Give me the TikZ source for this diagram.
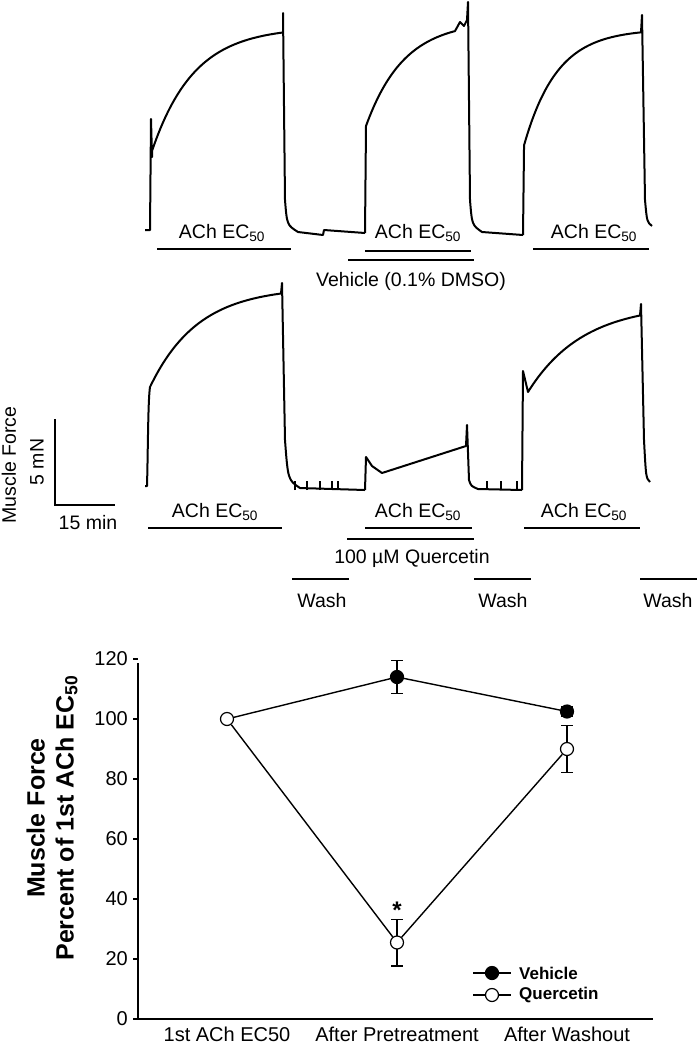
\documentclass[tikz,border=0pt]{standalone}
\usepackage{fontspec}
\setmainfont{Liberation Sans}
\begin{document}
\begin{tikzpicture}[x=1pt,y=-1pt,
    trace/.style={line width=2pt, line join=round},
    bar/.style={line width=1.2pt},
    lbl/.style={font=\fontsize{19.5}{22}\selectfont, inner sep=0pt},
    ticklbl/.style={font=\fontsize{20}{22}\selectfont, inner sep=0pt, anchor=east},
    vdot/.style={circle, draw, fill=black, line width=1.2pt, minimum size=13pt, inner sep=0pt},
    qdot/.style={circle, draw, fill=white, line width=1.2pt, minimum size=13pt, inner sep=0pt}]
    \useasboundingbox (0,0) rectangle (698,1047);

    % vehicle traces
    \draw[trace] (145,230) -- (150,230) -- (151,119) -- (152,157)
        -- plot[domain=152:283,samples=60,variable=\x] ({\x},{157-130*(1-exp(-(\x-150)/42))})
        -- (283,13) -- (285,200) .. controls (287,225) .. (298,232) -- (323,235) -- (324,230) -- (365,233);
    \draw[trace] (365,233) -- (366,126)
        -- plot[domain=366:455,samples=50,variable=\x] ({\x},{126-105*(1-exp(-(\x-366)/38))})
        -- (460,22) -- (464,26) -- (467,20) -- (468,2) -- (470,200) .. controls (472,225) .. (482,232) -- (523,235);
    \draw[trace] (523,235) -- (524,149)
        -- plot[domain=524:641,samples=60,variable=\x] ({\x},{149-120*(1-exp(-(\x-523)/33))})
        -- (642,15) -- (645,200) .. controls (647,222) .. (652,226);

    \foreach \cx/\xa/\xb/\ly in {222/157/291/249, 418/365/471/251, 594/533/649/249}
        {\node[lbl] (veh\cx) at (\cx,233) {ACh EC\textsubscript{50}};
         \draw[bar] (\xa,\ly) -- (\xb,\ly);}
    \draw[bar] (348,260) -- (474,260);
    \node[lbl] (vehlabel) at (411,281) {Vehicle (0.1\% DMSO)};

    % quercetin traces
    \draw[trace] (145,486) -- (147,486) .. controls (148,450) and (148,400) .. (150,387)
        -- plot[domain=150:281,samples=60,variable=\x] ({\x},{387-100*(1-exp(-(\x-150)/48))})
        -- (282,283) -- (285,440) .. controls (288,480) .. (300,488) -- (365,490);
    \draw[trace] (365,490) -- (366,457) -- (372,466) -- (382,473) -- (466,446) -- (467,425) -- (469,480) .. controls (471,486) .. (478,489) -- (522,490);
    \draw[trace] (522,490) -- (523,371) -- (528,392)
        -- plot[domain=528:640,samples=60,variable=\x] ({\x},{392-88*(1-exp(-(\x-528)/55))})
        -- (641,304) -- (644,440) .. controls (646,478) .. (650,482);
    \foreach \sx in {295,307,320,332,338}
        \draw[line width=1.2pt] (\sx,490) -- (\sx,481);
    \foreach \sx in {487,501,517}
        \draw[line width=1.2pt] (\sx,490) -- (\sx,481);

    \foreach \cx/\xa/\xb in {215/148/282, 418/365/472, 584/524/640}
        {\node[lbl] (que\cx) at (\cx,512) {ACh EC\textsubscript{50}};
         \draw[bar] (\xa,528) -- (\xb,528);}
    \draw[bar] (347,539) -- (474,539);
    \node[lbl] (quelabel) at (412,558) {100 µM Quercetin};
    \foreach \cx/\xa/\xb in {322/292/349, 503/474/531, 668/640/697}
        {\draw[bar] (\xa,579) -- (\xb,579);
         \node[lbl] (wash\cx) at (\cx,601) {Wash};}

    % scale bar
    \draw[bar] (55,419) -- (55,505) -- (115,505);
    \node[lbl] (minlabel) at (88,523) {15 min};
    \node[lbl, rotate=90] (mnlabel) at (37,462) {5 mN};
    \node[lbl, rotate=90] (forcelabel) at (9,465) {Muscle Force};

    % summary plot
    \draw[line width=1.4pt] (138,663) -- (138,1019) -- (653,1019);
    \foreach \v in {0,20,...,120}
        {\draw[line width=1.2pt] (133,{1019-3*\v}) -- (138,{1019-3*\v});
         \node[ticklbl] (tick\v) at (128,{1019-3*\v}) {\v};}
    \node[font=\fontsize{25}{29}\selectfont\bfseries, rotate=90, align=center] (ytitle) at (52,818)
        {Muscle Force\\Percent of 1st ACh EC\textsubscript{50}};
    \foreach \cx/\txt in {227/1st ACh EC50, 397/After Pretreatment, 567/After Washout}
        \node[ticklbl, anchor=base] (cat\cx) at (\cx,1041) {\txt};

    \draw[line width=1.2pt] (397,{1019-3*108.5}) -- (397,{1019-3*119.5})
        (391,{1019-3*108.5}) -- (403,{1019-3*108.5}) (391,{1019-3*119.5}) -- (403,{1019-3*119.5});
    \draw[line width=1.2pt] (567,{1019-3*101}) -- (567,{1019-3*104})
        (561,{1019-3*101}) -- (573,{1019-3*101}) (561,{1019-3*104}) -- (573,{1019-3*104});
    \draw[line width=1.2pt] (397,{1019-3*17.7}) -- (397,{1019-3*33.3})
        (391,{1019-3*17.7}) -- (403,{1019-3*17.7}) (391,{1019-3*33.3}) -- (403,{1019-3*33.3});
    \draw[line width=1.2pt] (567,{1019-3*82.2}) -- (567,{1019-3*97.8})
        (561,{1019-3*82.2}) -- (573,{1019-3*82.2}) (561,{1019-3*97.8}) -- (573,{1019-3*97.8});

    \node[vdot] (v2) at (397,{1019-3*114}) {};
    \node[vdot] (v3) at (567,{1019-3*102.5}) {};
    \node[qdot] (q1) at (227,719) {};
    \node[qdot] (q2) at (397,{1019-3*25.5}) {};
    \node[qdot] (q3) at (567,{1019-3*90}) {};
    \draw[line width=1.4pt] (q1) -- (v2) -- (v3);
    \draw[line width=1.4pt] (q1) -- (q2) -- (q3);
    \node[font=\fontsize{24}{26}\selectfont\bfseries] (star) at (397,910) {*};

    % legend
    \node[vdot] (legv) at (492,973) {};
    \node[qdot] (legq) at (492,995) {};
    \draw[line width=1.4pt] (473,973) -- (legv) -- (511,973);
    \draw[line width=1.4pt] (473,995) -- (legq) -- (511,995);
    \node[font=\fontsize{17}{19}\selectfont\bfseries, anchor=west, inner sep=0pt] (legvt) at (519,973) {Vehicle};
    \node[font=\fontsize{17}{19}\selectfont\bfseries, anchor=west, inner sep=0pt] (legqt) at (519,995) {Quercetin};
\end{tikzpicture}
\end{document}
